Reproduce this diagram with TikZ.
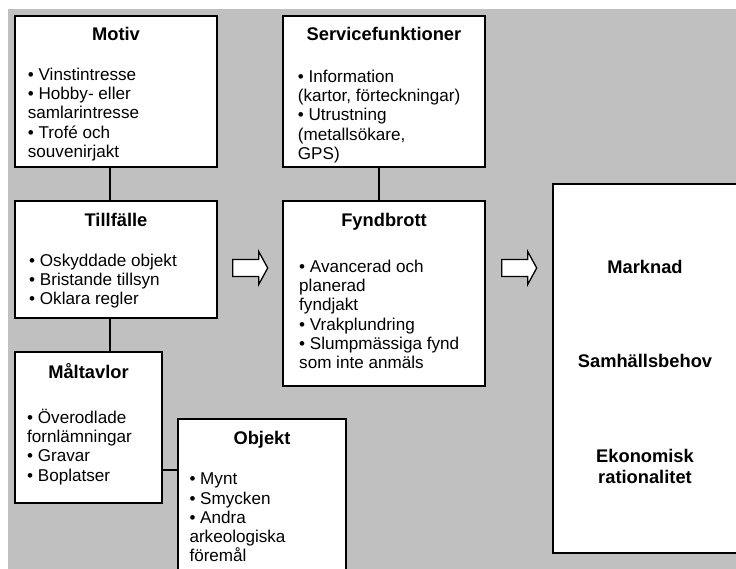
\documentclass[tikz,border=0pt]{standalone}
\usepackage{fontspec}
\setmainfont{Liberation Sans}
\definecolor{bggray}{RGB}{192,192,192}
\newcommand\myst{\rule{0pt}{16pt}}
\begin{document}
\begin{tikzpicture}[x=1pt,y=-1pt,
  box/.style={draw=black, line width=1.3pt, fill=white, anchor=north west, inner sep=0pt, outer sep=0pt},
  ttl/.style={font=\fontsize{18.3}{21}\selectfont\bfseries, inner sep=0pt, anchor=base},
  txt/.style={font=\fontsize{17.1}{19.3}\selectfont, inner sep=0pt, align=left, anchor=north west},
  link/.style={draw=black, line width=1.3pt},
  blockarrow/.style={draw=black, line width=1.3pt, fill=white, line join=miter}]
\clip (0,0) rectangle (736,569);
\fill[white] (0,0) rectangle (736,569);
\fill[bggray] (8,9) rectangle (745,580);

% boxes
\node[box, minimum width=202pt, minimum height=151pt] (motiv) at (15,16) {};
\node[box, minimum width=202pt, minimum height=117pt] (tillf) at (15,201) {};
\node[box, minimum width=147pt, minimum height=151pt] (malt) at (15,352) {};
\node[box, minimum width=168pt, minimum height=170pt] (objekt) at (178,419) {};
\node[box, minimum width=202pt, minimum height=151pt] (serv) at (283,16) {};
\node[box, minimum width=202pt, minimum height=185pt] (fynd) at (283,201) {};
\node[box, minimum width=190pt, minimum height=369pt] (big) at (553,184) {};

% connectors
\coordinate (lx) at (110,0);
\coordinate (sx) at (379,0);
\coordinate (oy) at (0,470);
\draw[link] (motiv.south -| lx) -- (tillf.north -| lx);
\draw[link] (tillf.south -| lx) -- (malt.north -| lx);
\draw[link] (serv.south -| sx) -- (fynd.north -| sx);
\draw[link] (malt.east |- oy) -- (objekt.west |- oy);

% titles
\node[ttl] (motivT) at (116,40.5) {Motiv};
\node[ttl] (tillfT) at (116,226.5) {Tillfälle};
\node[ttl] (maltT) at (88.5,378) {Måltavlor};
\node[ttl] (objektT) at (262,444.5) {Objekt};
\node[ttl] (servT) at (384,40.5) {Servicefunktioner};
\node[ttl] (fyndT) at (384,226.5) {Fyndbrott};

% bullet texts
\node[txt] (motivB) at (27.7,64) {\myst• Vinstintresse\\• Hobby- eller\\samlarintresse\\• Trofé och\\souvenirjakt};
\node[txt] (tillfB) at (29,250) {\myst• Oskyddade objekt\\• Bristande tillsyn\\• Oklara regler};
\node[txt] (maltB) at (27,407) {\myst• Överodlade\\fornlämningar\\• Gravar\\• Boplatser};
\node[txt] (objektB) at (189.3,468.5) {\myst• Mynt\\• Smycken\\• Andra\\arkeologiska\\föremål};
\node[txt] (servB) at (297.7,66) {\myst• Information\\(kartor, förteckningar)\\• Utrustning\\(metallsökare,\\GPS)};
\node[txt] (fyndB) at (299,256) {\myst• Avancerad och\\planerad\\fyndjakt\\• Vrakplundring\\• Slumpmässiga fynd\\som inte anmäls};

% big box labels
\node[ttl] (mkt) at (645,273) {Marknad};
\node[ttl] (sam) at (645,367.5) {Samhällsbehov};
\node[font=\fontsize{18.3}{21}\selectfont\bfseries, inner sep=0pt, align=center, anchor=north] (eko) at (645,446.5) {\myst Ekonomisk\\rationalitet};

% block arrows
\draw[blockarrow] (232.7,259.5) -- (258.7,259.5) -- (258.7,251.5) -- (267.7,268) -- (258.7,284.5) -- (258.7,276.5) -- (232.7,276.5) -- cycle;
\draw[blockarrow] (501.7,259.5) -- (527.7,259.5) -- (527.7,251.5) -- (536.7,268) -- (527.7,284.5) -- (527.7,276.5) -- (501.7,276.5) -- cycle;
\end{tikzpicture}
\end{document}
